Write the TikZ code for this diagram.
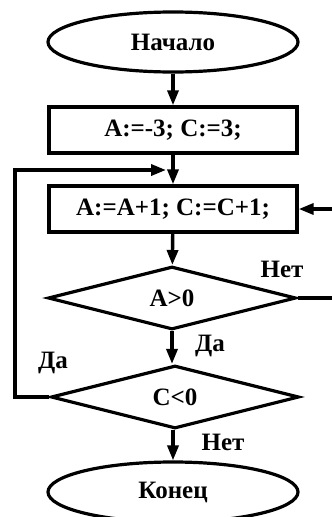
\documentclass[tikz,border=0pt]{standalone}
\usepackage{fontspec}
\setmainfont{Liberation Serif}
\usetikzlibrary{shapes.geometric,arrows.meta}
\tikzset{
  txt/.style={font=\fontsize{25}{28}\selectfont\bfseries},
  flow/.style={line width=3.4pt},
  arr/.style={flow,-{Triangle[length=15pt,width=11pt]}},
  term/.style={ellipse,draw,line width=3.2pt,minimum width=250pt,minimum height=60pt,inner sep=0pt,txt},
  proc/.style={rectangle,draw,line width=3.4pt,minimum width=248pt,minimum height=46pt,inner sep=0pt,txt},
  cond/.style={diamond,draw,line width=3.2pt,aspect=3.95,minimum width=248pt,minimum height=63pt,inner sep=0pt,txt},
  lbl/.style={txt,inner sep=0pt}
}
\begin{document}
\begin{tikzpicture}[x=1pt,y=-1pt]
\useasboundingbox (0,0) rectangle (332,517);
\clip (0,0) rectangle (332,517);
\node[term] (start) at (173,42) {Начало};
\node[proc] (init) at (173,130) {A:=-3; C:=3;};
\node[proc] (inc) at (173,209) {A:=A+1; C:=C+1;};
\node[cond] (qa) at (172,298) {A>0};
\node[cond] (qc) at (175,397) {C<0};
\node[term] (stop) at (173,492) {Конец};
\coordinate (loopL) at (15,170);
\coordinate (loopE) at (166,170);
\coordinate (rightX) at (345,250);
\node[lbl] at (282,269) {Нет};
\node[lbl] at (210,346) {Да};
\node[lbl] at (53,363) {Да};
\node[lbl] at (223,442) {Нет};
\draw[arr] (start) -- (init);
\draw[arr] (init) -- (inc);
\draw[arr] (inc) -- (qa);
\draw[arr] (qa.south) -- (qa.south |- qc.north);
\draw[arr] (qc.south -| stop.north) -- (stop);
\draw[arr] (qc.west) -| (loopL) -- (loopE);
\draw[arr] (qa.east) -| (rightX) |- (inc.east);
\end{tikzpicture}
\end{document}
